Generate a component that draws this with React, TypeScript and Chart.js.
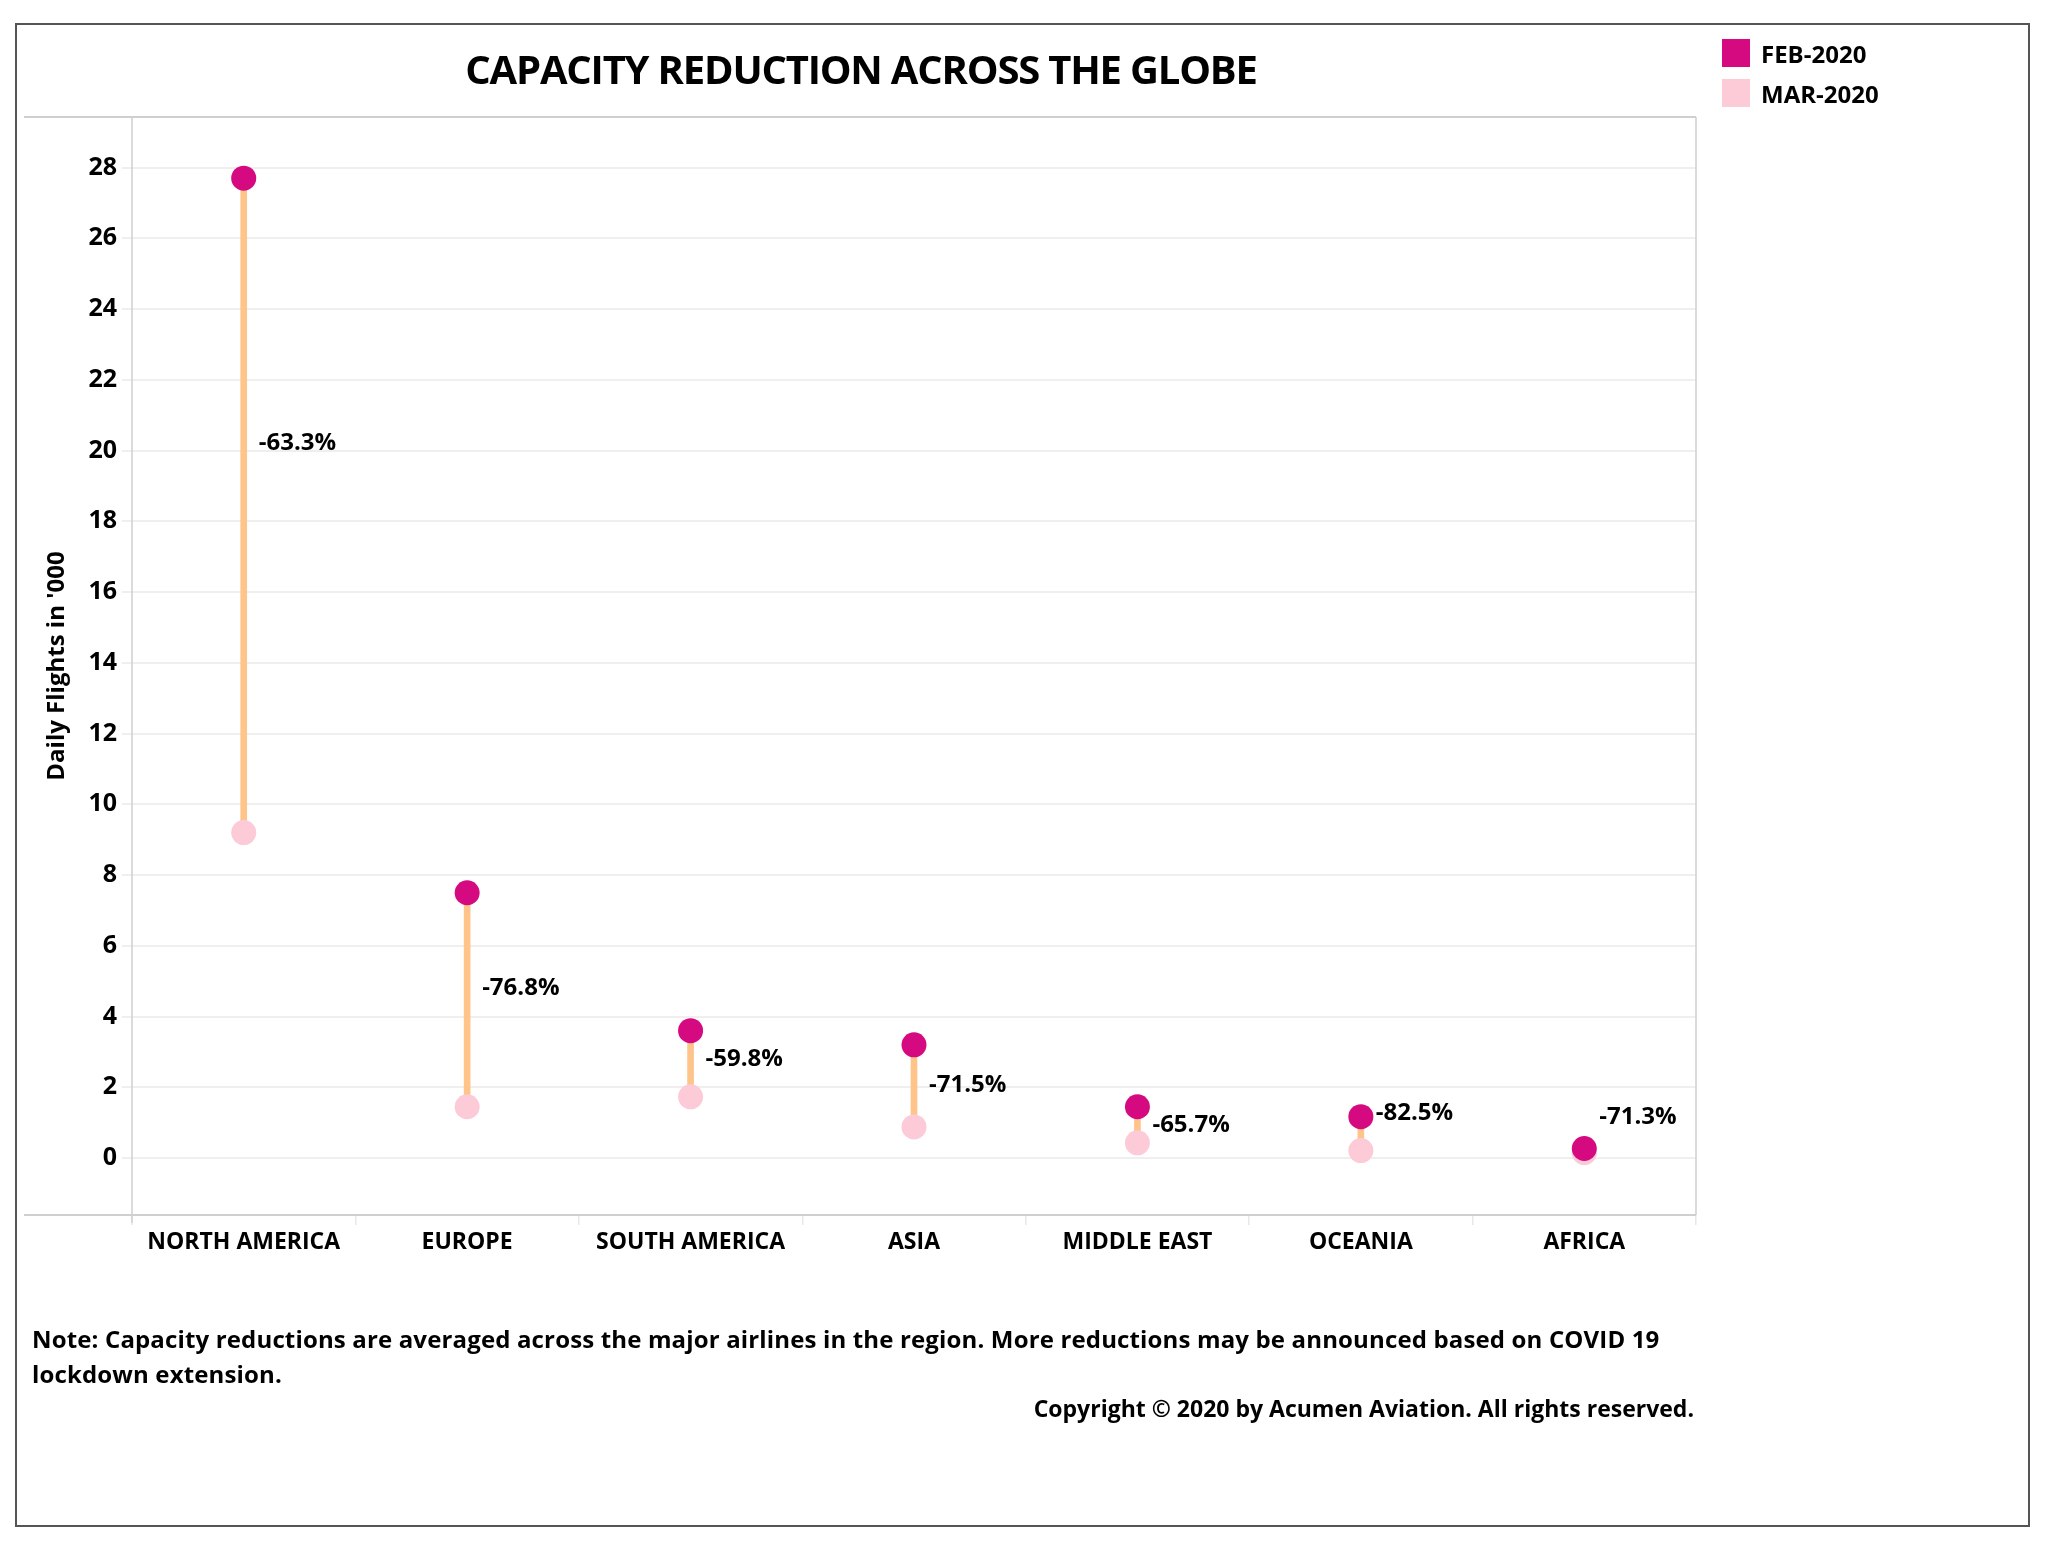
import React, { useEffect, useRef } from "react";
import { Chart, registerables } from "chart.js";

Chart.register(...registerables);

const regions = ["NORTH AMERICA", "EUROPE", "SOUTH AMERICA", "ASIA", "MIDDLE EAST", "OCEANIA", "AFRICA"];
const feb2020 = [27.7, 7.5, 3.6, 3.2, 1.45, 1.17, 0.27];
const mar2020 = [9.2, 1.45, 1.73, 0.88, 0.43, 0.21, 0.15];
const changeLabels = ["-63.3%", "-76.8%", "-59.8%", "-71.5%", "-65.7%", "-82.5%", "-71.3%"];
const labelAnchor = [20.2, 4.8, 2.8, 2.07, 0.93, 1.26, 1.16];
const yTicks = [0, 2, 4, 6, 8, 10, 12, 14, 16, 18, 20, 22, 24, 26, 28];
const seriesNames = ["FEB-2020", "MAR-2020"];

const FEB_COLOR = "#D60A80";
const MAR_COLOR = "#FDCAD7";
const LINE_COLOR = "#FFC48A";
const FONT = "'Open Sans', 'Noto Sans', sans-serif";

const W = 2046;
const H = 1547;
const AREA = { left: 132, top: 117, right: 1696, bottom: 1215 };

export default function App() {
  const canvasRef = useRef<HTMLCanvasElement | null>(null);

  useEffect(() => {
    document.body.style.margin = "0";
    document.body.style.overflow = "hidden";
    const canvas = canvasRef.current;
    if (!canvas) return;

    const framePlugin = {
      id: "frame",
      beforeDatasetsDraw(chart: any) {
        const { ctx, chartArea } = chart;
        ctx.save();
        ctx.strokeStyle = "#cfcfcf";
        ctx.lineWidth = 2;
        ctx.beginPath();
        ctx.moveTo(24, chartArea.top);
        ctx.lineTo(chartArea.right, chartArea.top);
        ctx.moveTo(24, chartArea.bottom);
        ctx.lineTo(chartArea.right, chartArea.bottom);
        ctx.stroke();
        ctx.lineWidth = 1.5;
        ctx.beginPath();
        ctx.moveTo(chartArea.left, chartArea.top);
        ctx.lineTo(chartArea.left, chartArea.bottom + 8);
        ctx.moveTo(chartArea.right, chartArea.top);
        ctx.lineTo(chartArea.right, chartArea.bottom);
        ctx.stroke();
        ctx.restore();
      },
    };

    const labelPlugin = {
      id: "pctLabels",
      afterDatasetsDraw(chart: any) {
        const { ctx } = chart;
        const xs = chart.scales.x;
        const ys = chart.scales.y;
        ctx.save();
        ctx.font = `bold 24px ${FONT}`;
        ctx.fillStyle = "#000";
        ctx.textAlign = "left";
        ctx.textBaseline = "middle";
        changeLabels.forEach((t, i) => {
          ctx.fillText(t, xs.getPixelForValue(i) + 15, ys.getPixelForValue(labelAnchor[i]));
        });
        ctx.restore();
      },
    };

    const chart = new Chart(canvas, {
      type: "bar",
      data: {
        labels: regions,
        datasets: [
          {
            type: "line",
            label: seriesNames[0],
            data: feb2020,
            showLine: false,
            pointRadius: 12.5,
            pointHoverRadius: 12.5,
            pointBackgroundColor: FEB_COLOR,
            pointBorderWidth: 0,
            borderColor: FEB_COLOR,
            order: 0,
          } as any,
          {
            type: "line",
            label: seriesNames[1],
            data: mar2020,
            showLine: false,
            pointRadius: 12.5,
            pointHoverRadius: 12.5,
            pointBackgroundColor: MAR_COLOR,
            pointBorderWidth: 0,
            borderColor: MAR_COLOR,
            order: 1,
          } as any,
          {
            type: "bar",
            label: "change",
            data: regions.map((_, i) => [mar2020[i], feb2020[i]]),
            backgroundColor: LINE_COLOR,
            borderWidth: 0,
            barThickness: 6,
            order: 2,
          } as any,
        ],
      },
      options: {
        animation: false,
        responsive: false,
        devicePixelRatio: 1,
        layout: { padding: { left: 0, top: AREA.top, right: W - AREA.right, bottom: 0 } },
        plugins: {
          legend: { display: false },
          title: { display: false },
          tooltip: { enabled: false },
        },
        scales: {
          x: {
            offset: true,
            afterFit: (s: any) => {
              s.height = H - AREA.bottom;
            },
            grid: {
              offset: true,
              drawOnChartArea: false,
              drawTicks: true,
              tickLength: 10,
              color: "#e8e8e8",
              lineWidth: 1.5,
            },
            border: { display: false },
            ticks: {
              color: "#000",
              padding: 4,
              font: { family: FONT, size: 23, weight: "bold" },
              maxRotation: 0,
              autoSkip: false,
            },
          },
          y: {
            min: -1.61,
            max: 29.43,
            afterFit: (s: any) => {
              s.width = AREA.left;
            },
            afterBuildTicks: (s: any) => {
              s.ticks = yTicks.map((v) => ({ value: v }));
            },
            grid: {
              color: "#efefef",
              lineWidth: 2,
              drawTicks: true,
              tickLength: 10,
            },
            border: { display: false },
            ticks: {
              color: "#000",
              padding: 5,
              font: { family: FONT, size: 25, weight: "bold" },
            },
            title: {
              display: true,
              text: "Daily Flights in '000",
              color: "#000",
              font: { family: FONT, size: 24, weight: "bold" },
              padding: { top: 43, bottom: 0 },
            },
          },
        },
      },
      plugins: [framePlugin, labelPlugin],
    });

    return () => {
      chart.destroy();
    };
  }, []);

  const abs: React.CSSProperties = { position: "absolute", fontFamily: FONT, fontWeight: 700, color: "#000", whiteSpace: "nowrap" };

  return (
    <div style={{ position: "relative", width: W, height: H, background: "#fff", overflow: "hidden" }}>
      <div
        style={{
          position: "absolute",
          left: 15,
          top: 23,
          width: 2015,
          height: 1504,
          border: "2px solid #555",
          boxSizing: "border-box",
        }}
      />
      <canvas ref={canvasRef} width={W} height={H} style={{ position: "absolute", left: 0, top: 0, width: W, height: H }} />
      <div style={{ ...abs, left: 0, width: 1722, top: 48.5, fontSize: 40, lineHeight: "40px", letterSpacing: "-1.2px", textAlign: "center" }}>
        CAPACITY REDUCTION ACROSS THE GLOBE
      </div>
      <div style={{ position: "absolute", left: 1722, top: 39, width: 28, height: 28, background: FEB_COLOR }} />
      <div style={{ position: "absolute", left: 1722, top: 79, width: 28, height: 28, background: MAR_COLOR }} />
      <div style={{ ...abs, left: 1761, top: 41.5, fontSize: 24, lineHeight: "24px" }}>{seriesNames[0]}</div>
      <div style={{ ...abs, left: 1761, top: 82, fontSize: 24, lineHeight: "24px" }}>{seriesNames[1]}</div>
      <div style={{ ...abs, left: 32, top: 1321, fontSize: 24, lineHeight: "35px", letterSpacing: "0.15px" }}>
        Note: Capacity reductions are averaged across the major airlines in the region. More reductions may be announced based on COVID 19
        <br />
        lockdown extension.
      </div>
      <div style={{ ...abs, left: 0, width: 1694, top: 1396.5, fontSize: 23, lineHeight: "23px", textAlign: "right" }}>
        Copyright © 2020 by Acumen Aviation. All rights reserved.
      </div>
    </div>
  );
}
